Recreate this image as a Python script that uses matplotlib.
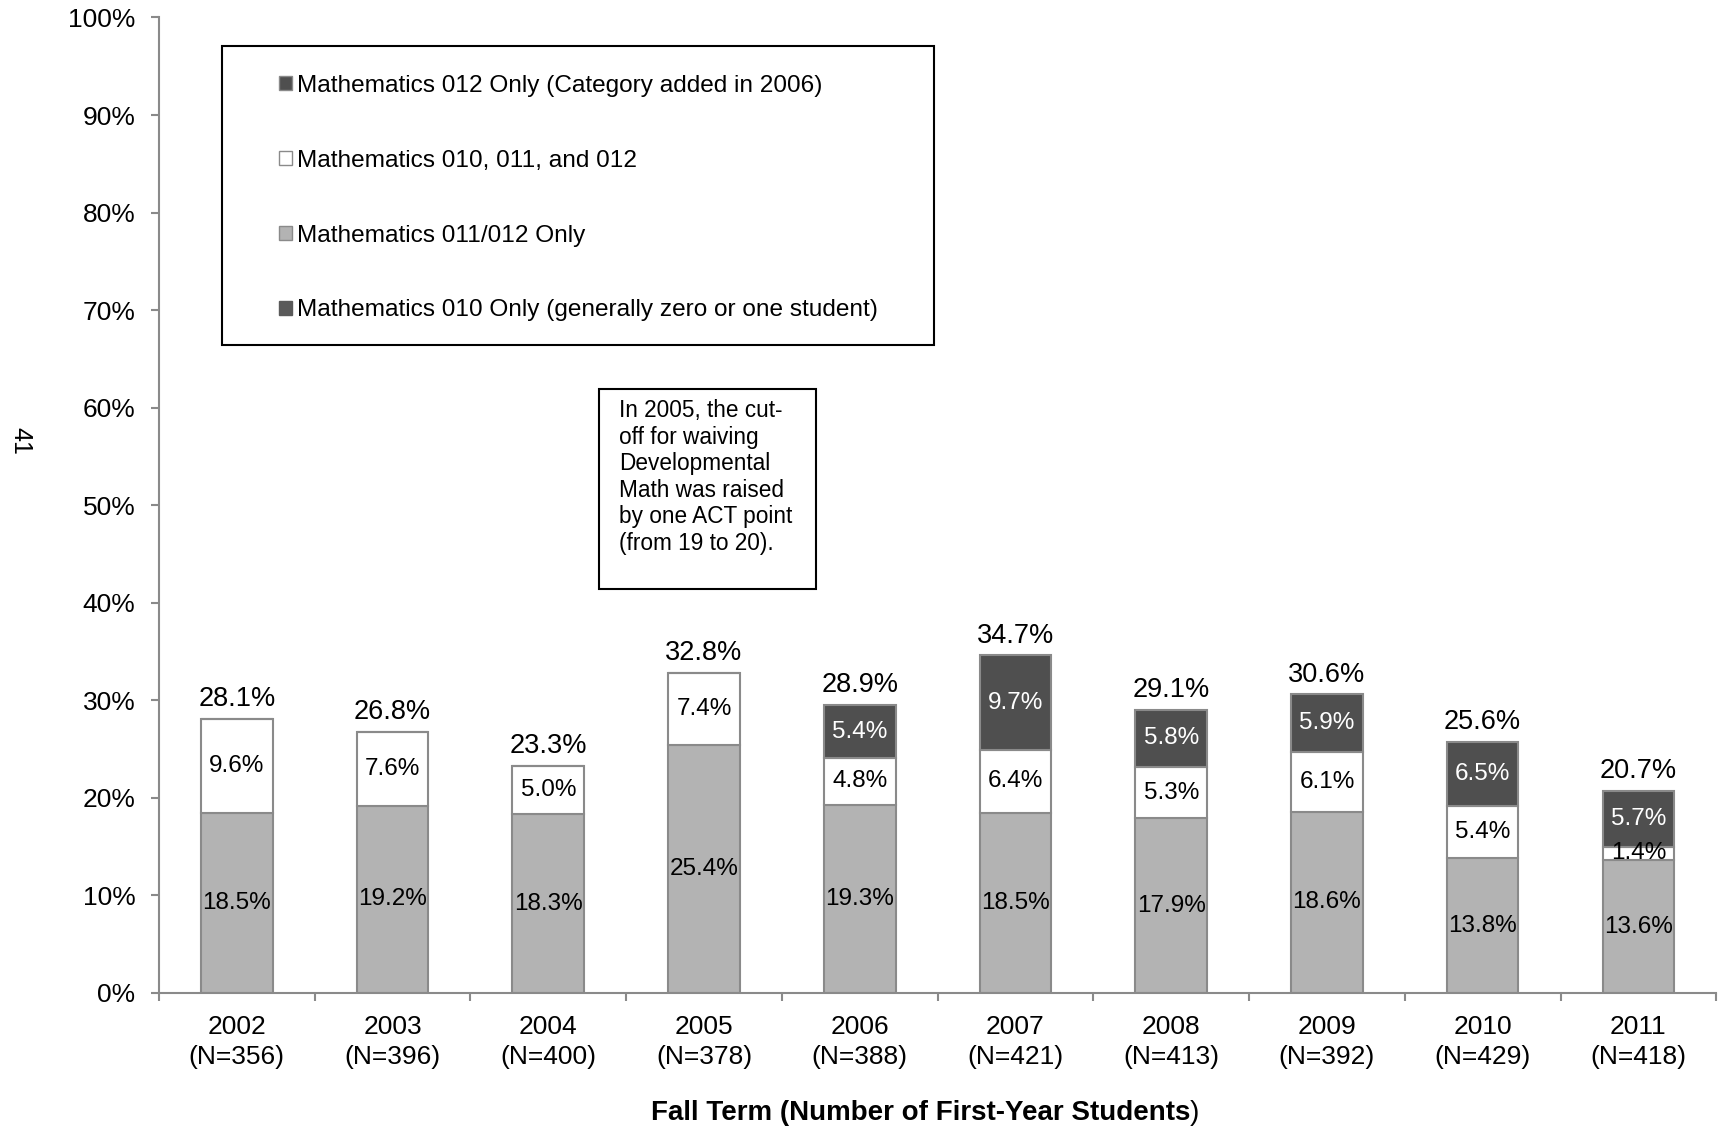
import matplotlib.pyplot as plt
from matplotlib.patches import Patch, Rectangle
import numpy as np

plt.rcParams['font.family'] = ['Liberation Sans', 'DejaVu Sans']

# data
years = ["2002", "2003", "2004", "2005", "2006", "2007", "2008", "2009", "2010", "2011"]
n_students = [356, 396, 400, 378, 388, 421, 413, 392, 429, 418]
math010_only = [0, 0, 0, 0, 0, 0, 0, 0, 0, 0]
math011_012 = [18.5, 19.2, 18.3, 25.4, 19.3, 18.5, 17.9, 18.6, 13.8, 13.6]
math010_011_012 = [9.6, 7.6, 5.0, 7.4, 4.8, 6.4, 5.3, 6.1, 5.4, 1.4]
math012_only = [0, 0, 0, 0, 5.4, 9.7, 5.8, 5.9, 6.5, 5.7]
totals = [28.1, 26.8, 23.3, 32.8, 28.9, 34.7, 29.1, 30.6, 25.6, 20.7]

DARK = "#4f4f4f"
GREY = "#b3b3b3"
EDGE = "#8a8a8a"

fig = plt.figure(figsize=(17.18, 11.28), dpi=100)
ax = fig.add_axes([0.0925, 0.1197, 0.9065, 0.8648])

x = np.arange(len(years))
w = 0.46

ax.bar(x, math010_only, w, color="#5a5a5a", linewidth=0)
ax.bar(x, math011_012, w, color=GREY, edgecolor=EDGE, linewidth=1.5)
bottom2 = np.array(math011_012)
ax.bar(x, math010_011_012, w, bottom=bottom2, color="white", edgecolor=EDGE, linewidth=1.5)
bottom3 = bottom2 + np.array(math010_011_012)
ax.bar(x, math012_only, w, bottom=bottom3, color=DARK, edgecolor=EDGE, linewidth=1.5)

# segment labels + totals
for i in x:
    ax.text(i, math011_012[i] / 2, f"{math011_012[i]:.1f}%", ha="center", va="center", fontsize=17.5)
    ax.text(i, bottom2[i] + math010_011_012[i] / 2, f"{math010_011_012[i]:.1f}%",
            ha="center", va="center", fontsize=17.5)
    if math012_only[i] > 0:
        ax.text(i, bottom3[i] + math012_only[i] / 2, f"{math012_only[i]:.1f}%",
                ha="center", va="center", fontsize=17.5, color="white")
    top = bottom3[i] + math012_only[i]
    ax.annotate(f"{totals[i]:.1f}%", (i, top), xytext=(0, 5), textcoords="offset points",
                ha="center", va="bottom", fontsize=19.5)

ax.set_xlim(-0.5, len(years) - 0.5)
ax.set_ylim(0, 100)
ax.set_yticks(np.arange(0, 101, 10))
ax.set_yticklabels([f"{v}%" for v in range(0, 101, 10)], fontsize=19)
ax.set_xticks(x)
ax.set_xticklabels([f"{y}\n(N={n})" for y, n in zip(years, n_students)], fontsize=19, linespacing=1.3)
ax.set_xticks(np.arange(-0.5, len(years)), minor=True)
ax.tick_params(axis="x", which="major", length=0, pad=16)
ax.tick_params(axis="x", which="minor", length=6, color=EDGE, width=1.5)
ax.tick_params(axis="y", length=6, color=EDGE, width=1.5, pad=11)

for s in ["top", "right"]:
    ax.spines[s].set_visible(False)
for s in ["left", "bottom"]:
    ax.spines[s].set_color(EDGE)
    ax.spines[s].set_linewidth(1.5)

# legend: frame drawn separately so the entries can sit inset like the original
ax.add_patch(Rectangle((0.0408, 0.664), 0.4572, 0.307, transform=ax.transAxes, fill=False,
                       edgecolor="black", linewidth=1.5, zorder=5))
handles = [
    Patch(facecolor=DARK, edgecolor=EDGE, label="Mathematics 012 Only (Category added in 2006)"),
    Patch(facecolor="white", edgecolor=EDGE, label="Mathematics 010, 011, and 012"),
    Patch(facecolor=GREY, edgecolor=EDGE, label="Mathematics 011/012 Only"),
    Patch(facecolor="#5a5a5a", edgecolor="#5a5a5a", label="Mathematics 010 Only (generally zero or one student)"),
]
ax.legend(handles=handles, loc="upper left", bbox_to_anchor=(0.0774, 0.941),
          fontsize=17.6, frameon=False, handlelength=0.5, handleheight=0.5,
          handletextpad=0.2, labelspacing=2.16, borderpad=0, borderaxespad=0)

# annotation box
ax.add_patch(Rectangle((2.329, 41.46), 1.393, 20.44, fill=False, edgecolor="black",
                       linewidth=1.5, zorder=5))
ax.text(2.456, 60.9, "In 2005, the cut-\noff for waiving\nDevelopmental\nMath was raised\nby one ACT point\n(from 19 to 20).",
        ha="left", va="top", fontsize=16.3, linespacing=1.2)

# x axis title (closing parenthesis is not bold in the original)
fig.text(0.6926, 0.013, "Fall Term (Number of First-Year Students", ha="right", va="center",
         fontsize=20, fontweight="bold")
fig.text(0.6926, 0.013, ")", ha="left", va="center", fontsize=20)
fig.text(0.012, 0.609, "41", rotation=270, ha="center", va="center", fontsize=18)

fig.savefig("out.png", dpi=100)
